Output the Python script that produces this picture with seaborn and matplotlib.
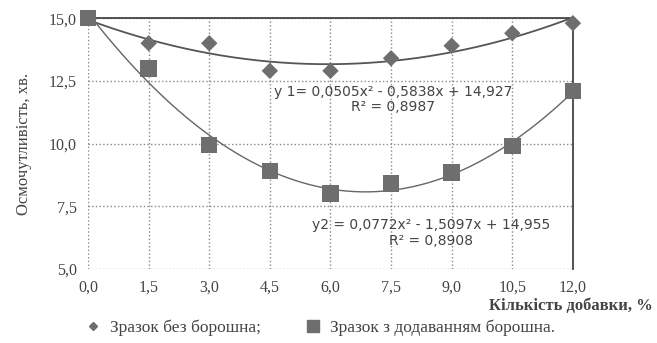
import numpy as np
import pandas as pd
import seaborn as sns
from matplotlib import pyplot as plt
from matplotlib.lines import Line2D

# дані
dobavka = [0.0, 1.5, 3.0, 4.5, 6.0, 7.5, 9.0, 10.5, 12.0]
bez_boroshna = [15.0, 14.0, 14.0, 12.9, 12.9, 13.4, 13.9, 14.4, 14.8]
z_boroshnom = [15.0, 13.0, 9.95, 8.9, 8.0, 8.4, 8.85, 9.9, 12.1]
eq1 = "y 1= 0,0505x² - 0,5838x + 14,927\nR² = 0,8987"
eq2 = "y2 = 0,0772x² - 1,5097x + 14,955\nR² = 0,8908"
xticks = [0.0, 1.5, 3.0, 4.5, 6.0, 7.5, 9.0, 10.5, 12.0]
yticks = [5.0, 7.5, 10.0, 12.5, 15.0]

df = pd.DataFrame({"x": dobavka, "y1": bez_boroshna, "y2": z_boroshnom})

sns.set_style("white")
plt.rcParams['font.family'] = ['Liberation Serif', 'DejaVu Serif']

fig = plt.figure(figsize=(6.57, 3.43), dpi=100)
ax = fig.add_axes([0.134, 0.216, 0.738, 0.731])

# поліноміальні лінії тренду (2-го ступеня)
xs = np.linspace(0, 12, 200)
p1 = np.polyfit(df["x"], df["y1"], 2)
p2 = np.polyfit(df["x"], df["y2"], 2)
ax.plot(xs, np.polyval(p1, xs), color='#555555', lw=1.3, zorder=2)
ax.plot(xs, np.polyval(p2, xs), color='#666666', lw=1.0, zorder=2)

sns.scatterplot(data=df, x="x", y="y1", marker='D', s=70, color='#6e6e6e',
                edgecolor='none', ax=ax, zorder=4, clip_on=False)
sns.scatterplot(data=df, x="x", y="y2", marker='s', s=140, color='#6e6e6e',
                edgecolor='none', ax=ax, zorder=4, clip_on=False)

ax.set_xlim(0, 12)
ax.set_ylim(5, 15)
ax.set_xticks(xticks)
ax.set_yticks(yticks)
ax.set_xticklabels([f"{v:.1f}".replace('.', ',') for v in xticks], fontsize=11.5, color='#444444')
ax.set_yticklabels([f"{v:.1f}".replace('.', ',') for v in yticks], fontsize=11.5, color='#444444')
ax.tick_params(length=0, pad=8)
ax.grid(True, ls=':', color='#888888', lw=1.0)

for side in ['left', 'bottom']:
    ax.spines[side].set_visible(False)
ax.spines['top'].set_color('#444444')
ax.spines['top'].set_linewidth(1.3)
ax.spines['right'].set_color('#444444')
ax.spines['right'].set_linewidth(1.3)

ax.set_xlabel("")
ax.set_ylabel("Осмочутливість, хв.", fontsize=12, color='#444444', labelpad=12)
fig.text(0.993, 0.108, "Кількість добавки, %", ha='right', va='center',
         fontsize=12, fontweight='bold', color='#444444')

ax.text(7.55, 11.75, eq1, ha='center', va='center', fontsize=10,
        family='DejaVu Sans', color='#444444', linespacing=1.15)
ax.text(8.5, 6.42, eq2, ha='center', va='center', fontsize=10,
        family='DejaVu Sans', color='#444444', linespacing=1.15)

handles = [Line2D([], [], marker='D', color='#6e6e6e', ls='none', markersize=4.5),
           Line2D([], [], marker='s', color='#6e6e6e', ls='none', markersize=8)]
fig.legend(handles, ["Зразок без борошна;", "Зразок з додаванням борошна."],
           loc='center', bbox_to_anchor=(0.48, 0.045), ncol=2, frameon=False,
           fontsize=12.5, handletextpad=0.0, columnspacing=2.0,
           labelcolor='#444444')

fig.savefig("out.png", dpi=100)
